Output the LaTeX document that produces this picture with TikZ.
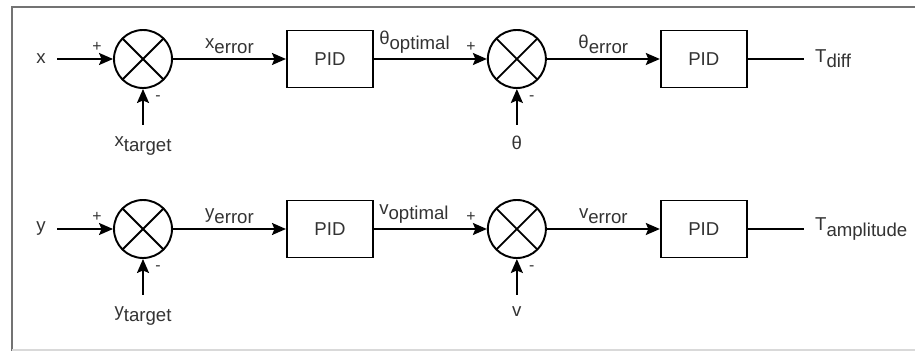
\documentclass[tikz,border=0pt]{standalone}
\usepackage{fontspec}
\setmainfont{Liberation Sans}
\usetikzlibrary{arrows.meta, positioning}
\definecolor{cText}{RGB}{51,51,51}
\newcommand{\lowtxt}[1]{\raisebox{-3pt}{#1}}
\tikzset{
	sumj/.style ={circle, draw=black, line width=1.1pt, minimum size=1.16cm, inner sep=0pt,
		path picture={\draw[line width=1.1pt] (path picture bounding box.north west) -- (path picture bounding box.south east)
			(path picture bounding box.north east) -- (path picture bounding box.south west);}},
	blk/.style  ={rectangle, draw=black, line width=1.1pt, minimum width=1.72cm, minimum height=1.14cm, align=center},
	sig/.style  ={-{Stealth[length=2.8mm, width=2.4mm, inset=0.5mm]}, line width=1.1pt},
	wire/.style ={line width=1.1pt},
	sgn/.style  ={inner sep=0pt, font=\fontsize{9}{10}\selectfont},
}

\begin{document}
\begin{tikzpicture}[every node/.style={font=\fontsize{10.6}{13}\selectfont, text=cText},
		inlbl/.style={inner sep=0.22cm}, elbl/.style={inner sep=2.5pt}]
	\useasboundingbox (0,0) rectangle (18.3,-7.02);
	% screenshot frame
	\draw[black!55, line width=1.2pt] (0.24,-7.02) -- (0.24,-0.14) -- (18.3,-0.14);
	\draw[black!15, line width=0.6pt] (0.24,-7.0) -- (18.3,-7.0);

	% position loop: x -> theta
	\node[sumj] (sx) at (2.86,-1.18) {};
	\node[blk, right=2.26cm of sx] (pidx) {PID};
	\node[sumj, right=2.26cm of pidx] (sth) {};
	\node[blk, right=2.26cm of sth] (pidth) {PID};
	\node[inlbl, left=1.12cm of sx] (xin) {x};
	\node[inlbl, below=0.72cm of sx] (xtgt) {x\lowtxt{target}};
	\node[inlbl, below=0.72cm of sth] (thin) {θ};
	\node[inlbl, right=1.12cm of pidth] (tdiff) {T\lowtxt{diff}};
	\node[sgn, above left=0.14cm and 0.22cm of sx.west] (sxp) {+};
	\node[sgn, below right=0.12cm and 0.24cm of sx.south] (sxm) {-};
	\node[sgn, above left=0.14cm and 0.22cm of sth.west] (sthp) {+};
	\node[sgn, below right=0.12cm and 0.24cm of sth.south] (sthm) {-};
	\draw[sig] (xin) -- (sx);
	\draw[sig] (xtgt) -- (sx);
	\draw[sig] (sx) -- node[elbl, above] (xerr) {x\lowtxt{error}} (pidx);
	\draw[sig] (pidx) -- node[elbl, above right, pos=0] (thopt) {θ\lowtxt{optimal}} (sth);
	\draw[sig] (thin) -- (sth);
	\draw[sig] (sth) -- node[elbl, above] (therr) {θ\lowtxt{error}} (pidth);
	\draw[wire] (pidth) -- (tdiff);

	% speed loop: y -> v
	\node[sumj] (sy) at (2.86,-4.58) {};
	\node[blk, right=2.26cm of sy] (pidy) {PID};
	\node[sumj, right=2.26cm of pidy] (sv) {};
	\node[blk, right=2.26cm of sv] (pidv) {PID};
	\node[inlbl, left=1.12cm of sy] (yin) {y};
	\node[inlbl, below=0.72cm of sy] (ytgt) {y\lowtxt{target}};
	\node[inlbl, below=0.72cm of sv] (vin) {v};
	\node[inlbl, right=1.12cm of pidv] (tamp) {T\lowtxt{amplitude}};
	\node[sgn, above left=0.14cm and 0.22cm of sy.west] (syp) {+};
	\node[sgn, below right=0.12cm and 0.24cm of sy.south] (sym) {-};
	\node[sgn, above left=0.14cm and 0.22cm of sv.west] (svp) {+};
	\node[sgn, below right=0.12cm and 0.24cm of sv.south] (svm) {-};
	\draw[sig] (yin) -- (sy);
	\draw[sig] (ytgt) -- (sy);
	\draw[sig] (sy) -- node[elbl, above] (yerr) {y\lowtxt{error}} (pidy);
	\draw[sig] (pidy) -- node[elbl, above right, pos=0] (vopt) {v\lowtxt{optimal}} (sv);
	\draw[sig] (vin) -- (sv);
	\draw[sig] (sv) -- node[elbl, above] (verr) {v\lowtxt{error}} (pidv);
	\draw[wire] (pidv) -- (tamp);
\end{tikzpicture}
\end{document}
